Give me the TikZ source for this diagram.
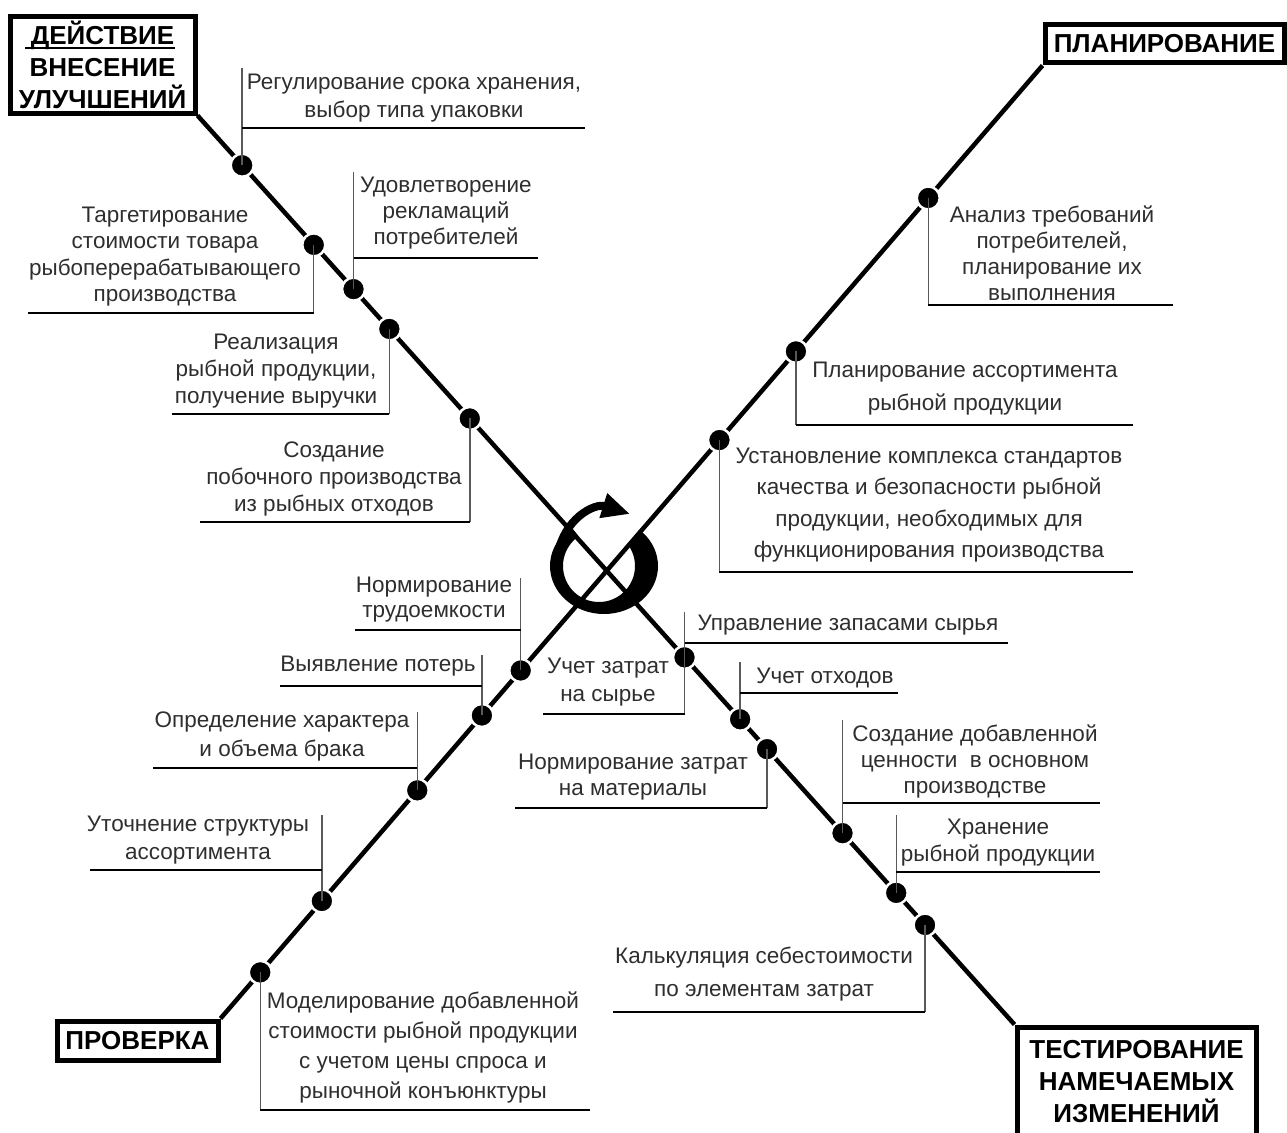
\documentclass[tikz,border=0pt]{standalone}
\usepackage{fontspec}
\setmainfont{Liberation Sans}
\usetikzlibrary{calc,arrows.meta}
\begin{document}
\begin{tikzpicture}[x=1pt,y=-1pt,
  lbl/.style={font=\fontsize{22.5}{#1}\selectfont, text=black!82, align=center, inner sep=0pt},
  lbl/.default=27,
  hd/.style={font=\fontsize{26}{32}\selectfont\bfseries, align=center, inner sep=0pt, draw, line width=5pt},
  axisline/.style={line width=4.5pt},
  dotnode/.style={circle, fill=black, draw=white, line width=2.5pt, minimum size=23pt, inner sep=0pt},
  lead/.style={line width=1.4pt, draw=black!65},
  uline/.style={line width=2.8pt}]
\useasboundingbox (0,0) rectangle (1287,1132);

% ---- corner boxes ----
\node[hd, minimum width=185, minimum height=96] (act) at (102.5,65) {ДЕЙСТВИЕ\\ВНЕСЕНИЕ\\УЛУЧШЕНИЙ};
\draw[line width=2.5pt] (25,48) -- (175,48);
\node[hd, minimum width=239, minimum height=38] (plan) at (1164.5,44) {ПЛАНИРОВАНИЕ};
\node[hd, minimum width=161, minimum height=39] (prov) at (137.5,1040.5) {ПРОВЕРКА};
\node[hd, minimum width=239, minimum height=109] (test) at (1136.5,1081.5) {ТЕСТИРОВАНИЕ\\НАМЕЧАЕМЫХ\\ИЗМЕНЕНИЙ};

% ---- central cycle symbol ----
\fill[even odd rule] (604,566) ellipse [x radius=54, y radius=48] (599,566) circle [radius=36];
\fill[white] (602,566) -- +(-128:80) -- +(-90:100) -- +(-40:80) -- cycle;
\draw[line width=8pt, -{Triangle[length=28pt,width=24pt]}] (557,558) .. controls (563,518) and (595,503) .. (630,514);

% ---- axes ----
\draw[axisline] (act.south east) -- (test.north west);
\draw[axisline] (prov.north east) -- (plan.south west);

% ---- dots on axis A ----
\foreach \n/\t in {a1/0.0547, a2/0.1423, a3/0.191, a4/0.2348, a5/0.3333, a6/0.5961, a7/0.6642, a8/0.6971, a9/0.7895, a10/0.8552, a11/0.8905}
  \node[dotnode] (\n) at ($(act.south east)!\t!(test.north west)$) {};
% ---- dots on axis B ----
\foreach \n/\t in {b1/0.0484, b2/0.1233, b3/0.2394, b4/0.318, b5/0.3652, b6/0.607, b7/0.700, b8/0.861}
  \node[dotnode] (\n) at ($(prov.north east)!\t!(plan.south west)$) {};

% ---- leaders and underlines ----
% A upper
\draw[lead] (a1.center) -- (a1 |- 0,68);  \draw[uline] (a1 |- 0,128) -- (585,128);
\draw[lead] (a3.center) -- (a3 |- 0,172); \draw[uline] (a3 |- 0,258) -- (538,258);
\draw[lead] (a2.center) -- (a2 |- 0,313); \draw[uline] (a2 |- 0,313) -- (28,313);
\draw[lead] (a4.center) -- (a4 |- 0,414); \draw[uline] (a4 |- 0,414) -- (172,414);
\draw[lead] (a5.center) -- (a5 |- 0,522); \draw[uline] (a5 |- 0,522) -- (200,522);
% B upper
\draw[lead] (b8.center) -- (b8 |- 0,305); \draw[uline] (b8 |- 0,305) -- (1173,305);
\draw[lead] (b7.center) -- (b7 |- 0,425); \draw[uline] (b7 |- 0,425) -- (1133,425);
\draw[lead] (b6.center) -- (b6 |- 0,572); \draw[uline] (b6 |- 0,572) -- (1133,572);
% B lower
\draw[lead] (b5.center) -- (b5 |- 0,578); \draw[uline] (b5 |- 0,630) -- (355,630);
\draw[lead] (b4.center) -- (b4 |- 0,655); \draw[uline] (b4 |- 0,686) -- (280,686);
\draw[lead] (b3.center) -- (b3 |- 0,712); \draw[uline] (b3 |- 0,768) -- (153,768);
\draw[lead] (b2.center) -- (b2 |- 0,815); \draw[uline] (b2 |- 0,870) -- (90,870);
\draw[lead] (b1.center) -- (b1 |- 0,1110); \draw[uline] (b1 |- 0,1110) -- (590,1110);
% A lower
\draw[lead] (a6 |- 0,612) -- (a6 |- 0,714);
\draw[uline] (a6 |- 0,643) -- (1008,643);
\draw[uline] (a6 |- 0,714) -- (543,714);
\draw[lead] (a7.center) -- (a7 |- 0,662); \draw[uline] (a7 |- 0,693) -- (898,693);
\draw[lead] (a8.center) -- (a8 |- 0,808); \draw[uline] (a8 |- 0,808) -- (515,808);
\draw[lead] (a9.center) -- (a9 |- 0,720); \draw[uline] (a9 |- 0,803) -- (1100,803);
\draw[lead] (a10.center) -- (a10 |- 0,815); \draw[uline] (a10 |- 0,872) -- (1100,872);
\draw[lead] (a11.center) -- (a11 |- 0,1012); \draw[uline] (a11 |- 0,1012) -- (613,1012);

% ---- labels ----
\node[lbl=28] (t1) at (414,98) {Регулирование срока хранения,\\выбор типа упаковки};
\node[lbl=26] (t2) at (446,213) {Удовлетворение\\рекламаций\\потребителей};
\node[lbl=26.3] (t3) at (165,256.5) {Таргетирование\\стоимости товара\\рыбоперерабатывающего\\производства};
\node[lbl=27] (t4) at (276,371) {Реализация\\рыбной продукции,\\получение выручки};
\node[lbl=27] (t5) at (334,479) {Создание\\побочного производства\\из рыбных отходов};
\node[lbl=26] (t6) at (1052,253) {Анализ требований\\потребителей,\\планирование их\\выполнения};
\node[lbl=33] (t7) at (965,388.5) {Планирование ассортимента\\рыбной продукции};
\node[lbl=31.3] (t8) at (929,505) {Установление комплекса стандартов\\качества и безопасности рыбной\\продукции, необходимых для\\функционирования производства};
\node[lbl=25] (t9) at (434,599.5) {Нормирование\\трудоемкости};
\node[lbl] (t10) at (378,666) {Выявление потерь};
\node[lbl=29] (t11) at (282,736.5) {Определение характера\\и объема брака};
\node[lbl=28] (t12) at (198,840) {Уточнение структуры\\ассортимента};
\node[lbl=30.3] (t13) at (423,1047.5) {Моделирование добавленной\\стоимости рыбной продукции\\с учетом цены спроса и\\рыночной конъюнктуры};
\node[lbl] (t14) at (848,625) {Управление запасами сырья};
\node[lbl=28] (t15) at (608,682) {Учет затрат\\на сырье};
\node[lbl] (t16) at (825,678) {Учет отходов};
\node[lbl=26] (t17) at (633,777) {Нормирование затрат\\на материалы};
\node[lbl=26] (t18) at (975,761) {Создание добавленной\\ценности\ \ в основном\\производстве};
\node[lbl=27] (t19) at (998,842.5) {Хранение\\рыбной продукции};
\node[lbl=33] (t20) at (764,974.5) {Калькуляция себестоимости\\по элементам затрат};
\end{tikzpicture}
\end{document}
